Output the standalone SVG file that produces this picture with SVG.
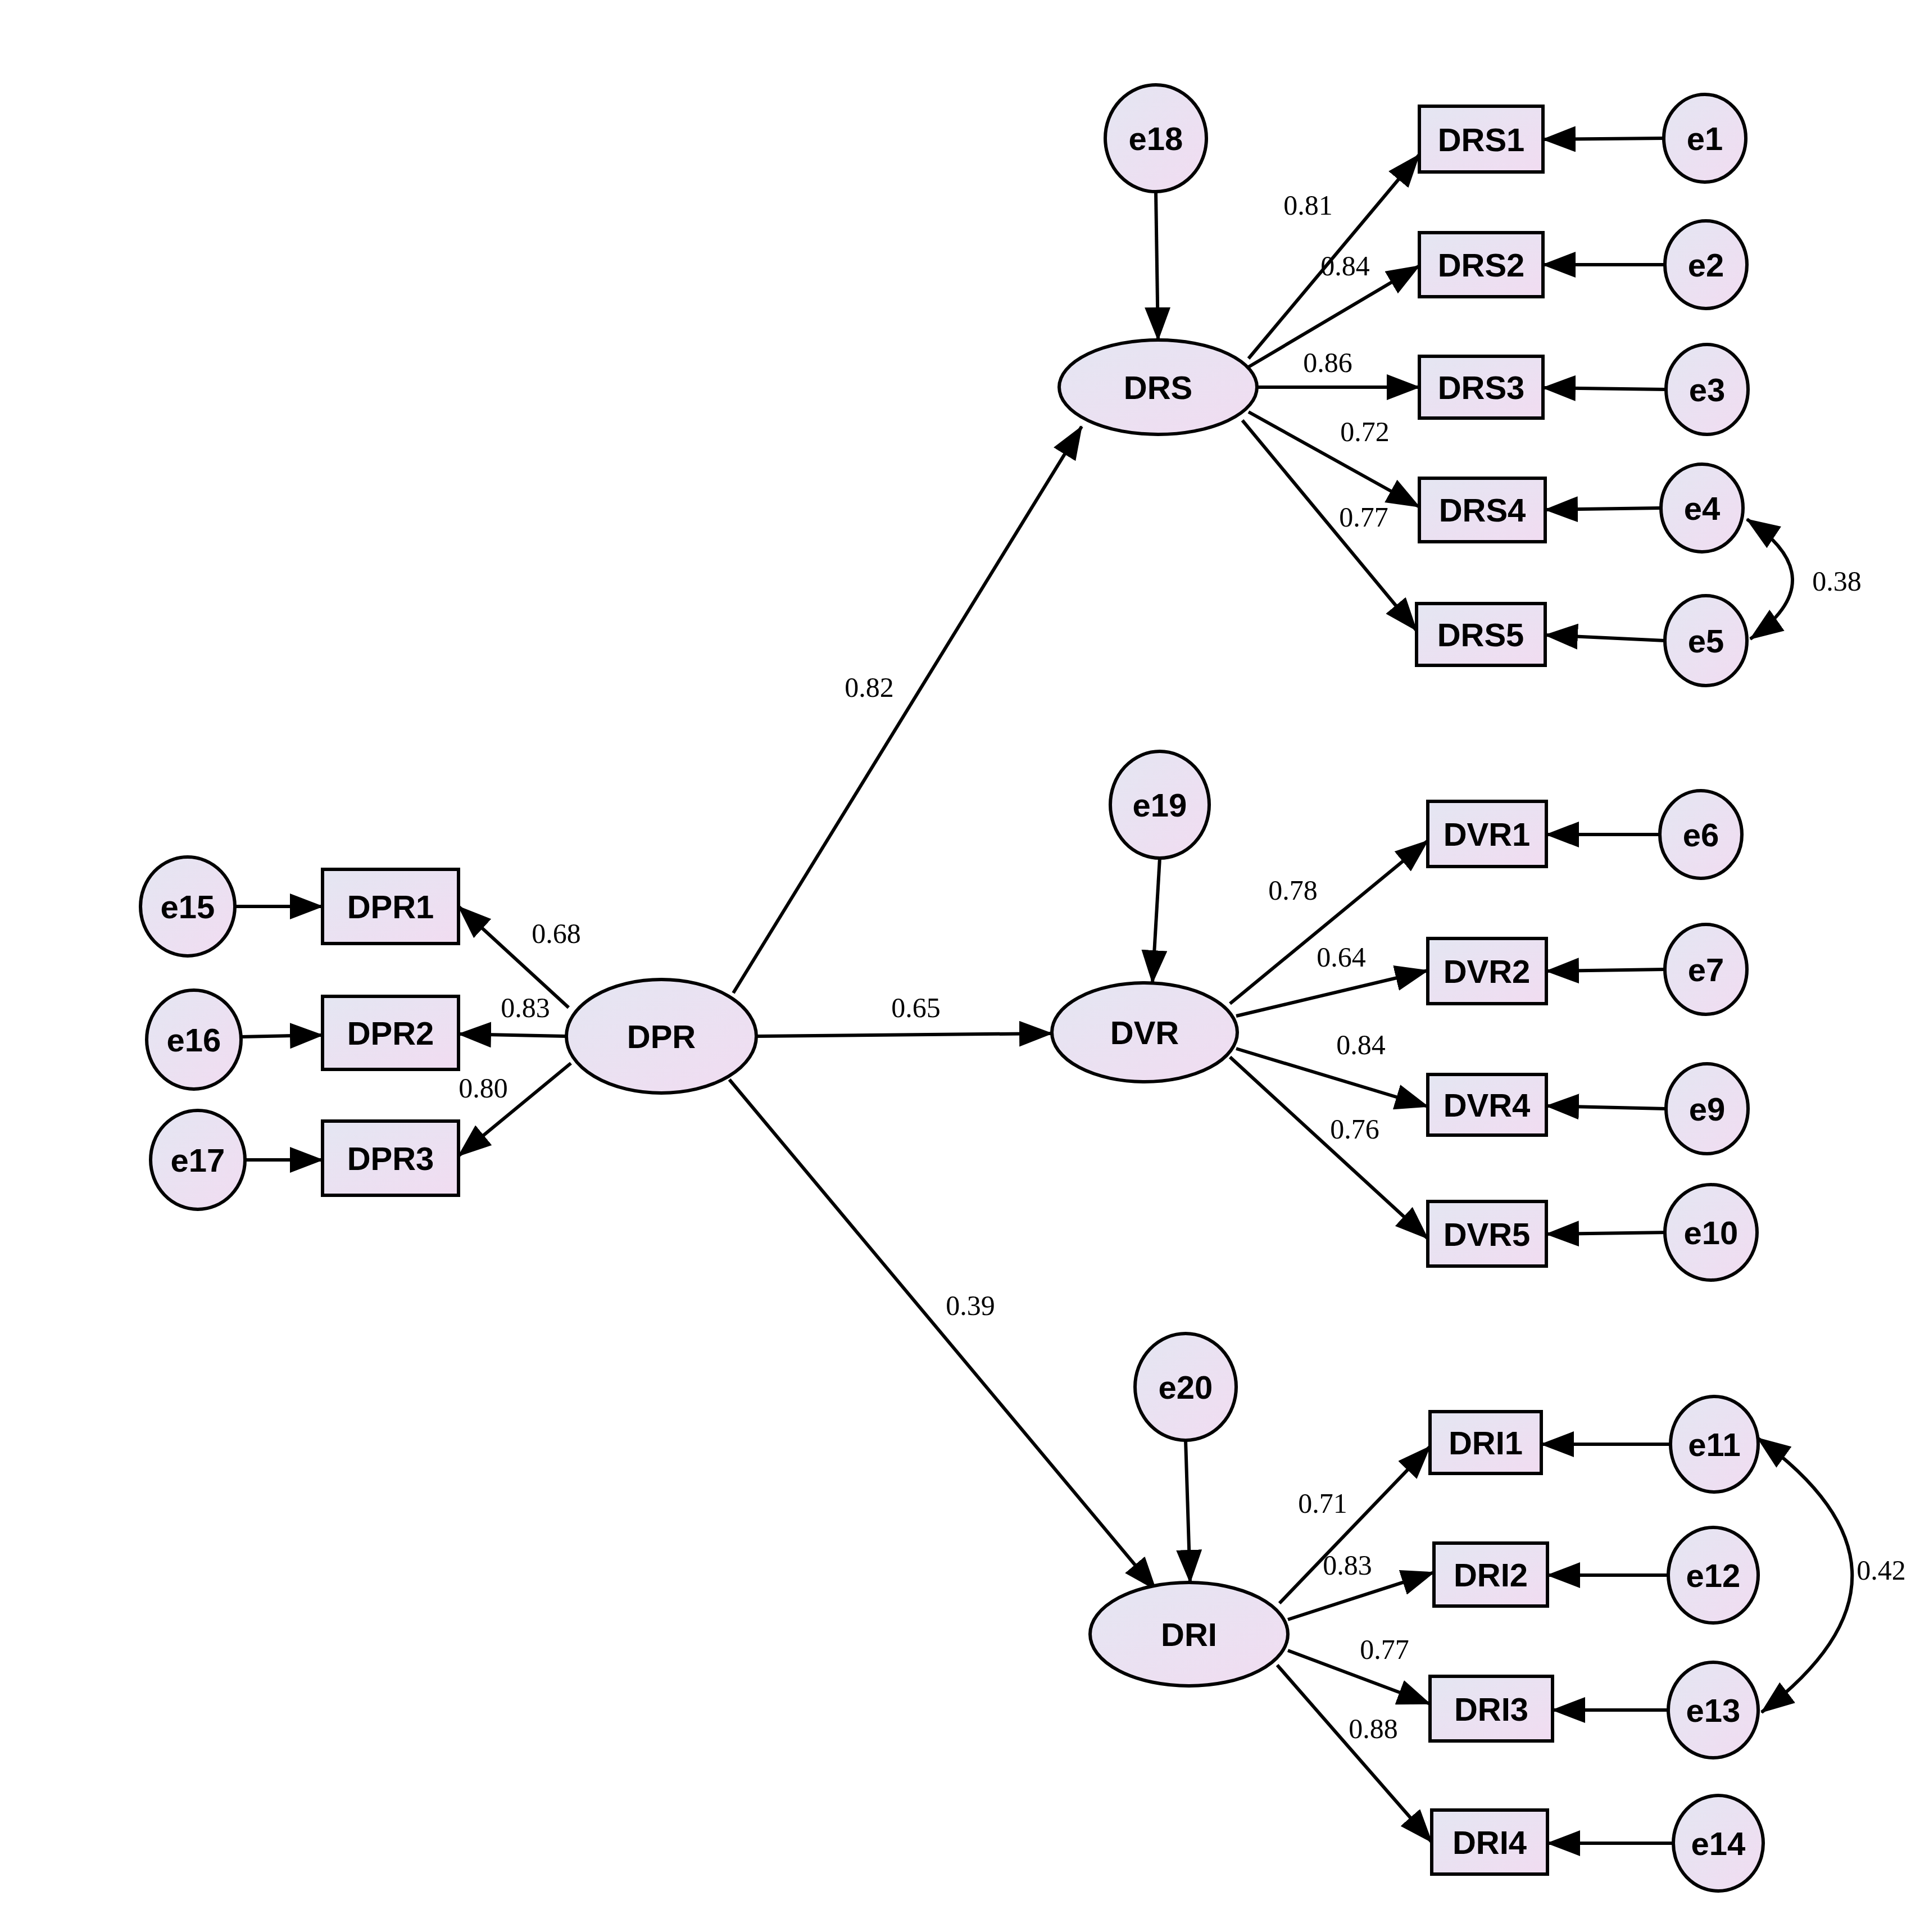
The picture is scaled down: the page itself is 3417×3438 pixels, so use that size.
<svg xmlns="http://www.w3.org/2000/svg" width="3417" height="3438" viewBox="0 0 3417 3438">
<defs>
<linearGradient id="g" x1="0" y1="0" x2="1" y2="1"><stop offset="0" stop-color="#e4e6f2"/><stop offset="1" stop-color="#f1dcf1"/></linearGradient>
<marker id="a" markerUnits="userSpaceOnUse" markerWidth="60" markerHeight="46" viewBox="0 0 60 46" refX="58" refY="23" orient="auto-start-reverse"><path d="M0,0 L60,23 L0,46 Z" fill="#000"/></marker>
</defs>
<style>
.n{fill:url(#g);stroke:#000;stroke-width:6}
.t{font-family:"Liberation Sans",Arial,sans-serif;font-weight:bold;font-size:58px;text-anchor:middle;dominant-baseline:central;fill:#000}
.l{font-family:"Liberation Serif","Times New Roman",serif;font-size:50px;text-anchor:middle;dominant-baseline:central;fill:#000}
.c line,.c path{stroke:#000;stroke-width:6;fill:none;marker-end:url(#a)}
.c path{marker-start:url(#a)}
</style>
<rect width="3417" height="3438" fill="#fff"/>
<g class="c" id="connectors">
<line x1="2057" y1="341" x2="2061" y2="605"/>
<line x1="2222" y1="638" x2="2526" y2="275"/>
<line x1="2222" y1="653" x2="2526" y2="473"/>
<line x1="2237" y1="689" x2="2526" y2="689"/>
<line x1="2222" y1="733" x2="2526" y2="902"/>
<line x1="2211" y1="748" x2="2521" y2="1122"/>
<line x1="2961" y1="246" x2="2746" y2="248"/>
<line x1="2963" y1="471" x2="2746" y2="471"/>
<line x1="2964" y1="693" x2="2746" y2="690"/>
<line x1="2956" y1="904" x2="2750" y2="907"/>
<line x1="2963" y1="1140" x2="2750" y2="1130"/>
<path d="M3109,924 Q3268,1030 3115,1137"/>
<line x1="1305" y1="1767" x2="1925" y2="759"/>
<line x1="1346" y1="1844" x2="1872" y2="1839"/>
<line x1="1298" y1="1921" x2="2057" y2="2829"/>
<line x1="2064" y1="1527" x2="2051" y2="1749"/>
<line x1="2189" y1="1786" x2="2541" y2="1496"/>
<line x1="2200" y1="1808" x2="2541" y2="1727"/>
<line x1="2200" y1="1866" x2="2541" y2="1969"/>
<line x1="2189" y1="1881" x2="2541" y2="2204"/>
<line x1="2954" y1="1485" x2="2752" y2="1485"/>
<line x1="2963" y1="1725" x2="2752" y2="1728"/>
<line x1="2965" y1="1973" x2="2752" y2="1968"/>
<line x1="2972" y1="2193" x2="2752" y2="2196"/>
<line x1="2110" y1="2563" x2="2118" y2="2816"/>
<line x1="2277" y1="2853" x2="2545" y2="2574"/>
<line x1="2292" y1="2882" x2="2552" y2="2798"/>
<line x1="2292" y1="2937" x2="2545" y2="3032"/>
<line x1="2273" y1="2963" x2="2548" y2="3278"/>
<line x1="2978" y1="2570" x2="2743" y2="2570"/>
<line x1="2976" y1="2803" x2="2754" y2="2803"/>
<line x1="2976" y1="3043" x2="2763" y2="3043"/>
<line x1="2985" y1="3280" x2="2754" y2="3280"/>
<path d="M3128,2559 Q3461,2800 3135,3047"/>
<line x1="1012" y1="1793" x2="816" y2="1613"/>
<line x1="1008" y1="1844" x2="816" y2="1840"/>
<line x1="1016" y1="1892" x2="816" y2="2057"/>
<line x1="418" y1="1613" x2="574" y2="1613"/>
<line x1="429" y1="1845" x2="574" y2="1842"/>
<line x1="436" y1="2064" x2="574" y2="2064"/>
</g>
<g id="labels">
<text class="l" x="2328" y="365">0.81</text><text class="l" x="2394" y="473">0.84</text><text class="l" x="2363" y="645">0.86</text><text class="l" x="2429" y="768">0.72</text><text class="l" x="2427" y="920">0.77</text>
<text class="l" x="3269" y="1034">0.38</text>
<text class="l" x="1547" y="1223">0.82</text><text class="l" x="1630" y="1793">0.65</text><text class="l" x="1727" y="2323">0.39</text>
<text class="l" x="2301" y="1584">0.78</text><text class="l" x="2387" y="1703">0.64</text><text class="l" x="2422" y="1859">0.84</text><text class="l" x="2411" y="2009">0.76</text>
<text class="l" x="2354" y="2675">0.71</text><text class="l" x="2398" y="2785">0.83</text><text class="l" x="2464" y="2935">0.77</text><text class="l" x="2444" y="3076">0.88</text>
<text class="l" x="3348" y="2794">0.42</text>
<text class="l" x="990" y="1661">0.68</text><text class="l" x="935" y="1793">0.83</text><text class="l" x="860" y="1936">0.80</text>
</g>
<g id="DRS"><ellipse class="n" cx="2061" cy="689" rx="176" ry="84"/><text class="t" x="2061" y="689">DRS</text></g>
<g id="DVR"><ellipse class="n" cx="2037" cy="1837" rx="165" ry="88"/><text class="t" x="2037" y="1837">DVR</text></g>
<g id="DRI"><ellipse class="n" cx="2116" cy="2908" rx="176" ry="92"/><text class="t" x="2116" y="2908">DRI</text></g>
<g id="DPR"><ellipse class="n" cx="1177" cy="1844" rx="169" ry="101"/><text class="t" x="1177" y="1844">DPR</text></g>
<g id="DRS1"><rect class="n" x="2526" y="189" width="220" height="117"/><text class="t" x="2636" y="248">DRS1</text></g>
<g id="DRS2"><rect class="n" x="2526" y="414" width="220" height="114"/><text class="t" x="2636" y="471">DRS2</text></g>
<g id="DRS3"><rect class="n" x="2526" y="634" width="220" height="110"/><text class="t" x="2636" y="689">DRS3</text></g>
<g id="DRS4"><rect class="n" x="2526" y="851" width="224" height="113"/><text class="t" x="2638" y="907">DRS4</text></g>
<g id="DRS5"><rect class="n" x="2521" y="1074" width="229" height="110"/><text class="t" x="2635" y="1129">DRS5</text></g>
<g id="DVR1"><rect class="n" x="2541" y="1426" width="211" height="116"/><text class="t" x="2646" y="1484">DVR1</text></g>
<g id="DVR2"><rect class="n" x="2541" y="1670" width="211" height="116"/><text class="t" x="2646" y="1728">DVR2</text></g>
<g id="DVR4"><rect class="n" x="2541" y="1912" width="211" height="108"/><text class="t" x="2646" y="1966">DVR4</text></g>
<g id="DVR5"><rect class="n" x="2541" y="2138" width="211" height="115"/><text class="t" x="2646" y="2196">DVR5</text></g>
<g id="DRI1"><rect class="n" x="2545" y="2512" width="198" height="110"/><text class="t" x="2644" y="2567">DRI1</text></g>
<g id="DRI2"><rect class="n" x="2552" y="2746" width="202" height="112"/><text class="t" x="2653" y="2802">DRI2</text></g>
<g id="DRI3"><rect class="n" x="2545" y="2983" width="218" height="115"/><text class="t" x="2654" y="3041">DRI3</text></g>
<g id="DRI4"><rect class="n" x="2548" y="3221" width="206" height="114"/><text class="t" x="2651" y="3278">DRI4</text></g>
<g id="DPR1"><rect class="n" x="574" y="1547" width="242" height="132"/><text class="t" x="695" y="1613">DPR1</text></g>
<g id="DPR2"><rect class="n" x="574" y="1773" width="242" height="130"/><text class="t" x="695" y="1838">DPR2</text></g>
<g id="DPR3"><rect class="n" x="574" y="1995" width="242" height="132"/><text class="t" x="695" y="2061">DPR3</text></g>
<g id="e18"><ellipse class="n" cx="2057" cy="246" rx="90" ry="95"/><text class="t" x="2057" y="246">e18</text></g>
<g id="e19"><ellipse class="n" cx="2064" cy="1432" rx="88" ry="95"/><text class="t" x="2064" y="1432">e19</text></g>
<g id="e20"><ellipse class="n" cx="2110" cy="2468" rx="90" ry="95"/><text class="t" x="2110" y="2468">e20</text></g>
<g id="e1"><ellipse class="n" cx="3034" cy="246" rx="73" ry="78"/><text class="t" x="3034" y="246">e1</text></g>
<g id="e2"><ellipse class="n" cx="3036" cy="471" rx="73" ry="78"/><text class="t" x="3036" y="471">e2</text></g>
<g id="e3"><ellipse class="n" cx="3038" cy="693" rx="73" ry="80"/><text class="t" x="3038" y="693">e3</text></g>
<g id="e4"><ellipse class="n" cx="3029" cy="904" rx="73" ry="78"/><text class="t" x="3029" y="904">e4</text></g>
<g id="e5"><ellipse class="n" cx="3036" cy="1140" rx="73" ry="80"/><text class="t" x="3036" y="1140">e5</text></g>
<g id="e6"><ellipse class="n" cx="3027" cy="1485" rx="73" ry="78"/><text class="t" x="3027" y="1485">e6</text></g>
<g id="e7"><ellipse class="n" cx="3036" cy="1725" rx="73" ry="80"/><text class="t" x="3036" y="1725">e7</text></g>
<g id="e9"><ellipse class="n" cx="3038" cy="1973" rx="73" ry="80"/><text class="t" x="3038" y="1973">e9</text></g>
<g id="e10"><ellipse class="n" cx="3045" cy="2193" rx="82" ry="85"/><text class="t" x="3045" y="2193">e10</text></g>
<g id="e11"><ellipse class="n" cx="3051" cy="2570" rx="78" ry="85"/><text class="t" x="3051" y="2570">e11</text></g>
<g id="e12"><ellipse class="n" cx="3049" cy="2803" rx="80" ry="85"/><text class="t" x="3049" y="2803">e12</text></g>
<g id="e13"><ellipse class="n" cx="3049" cy="3043" rx="80" ry="85"/><text class="t" x="3049" y="3043">e13</text></g>
<g id="e14"><ellipse class="n" cx="3058" cy="3280" rx="80" ry="85"/><text class="t" x="3058" y="3280">e14</text></g>
<g id="e15"><ellipse class="n" cx="334" cy="1613" rx="84" ry="88"/><text class="t" x="334" y="1613">e15</text></g>
<g id="e16"><ellipse class="n" cx="345" cy="1850" rx="84" ry="88"/><text class="t" x="345" y="1850">e16</text></g>
<g id="e17"><ellipse class="n" cx="352" cy="2064" rx="84" ry="88"/><text class="t" x="352" y="2064">e17</text></g>
</svg>
